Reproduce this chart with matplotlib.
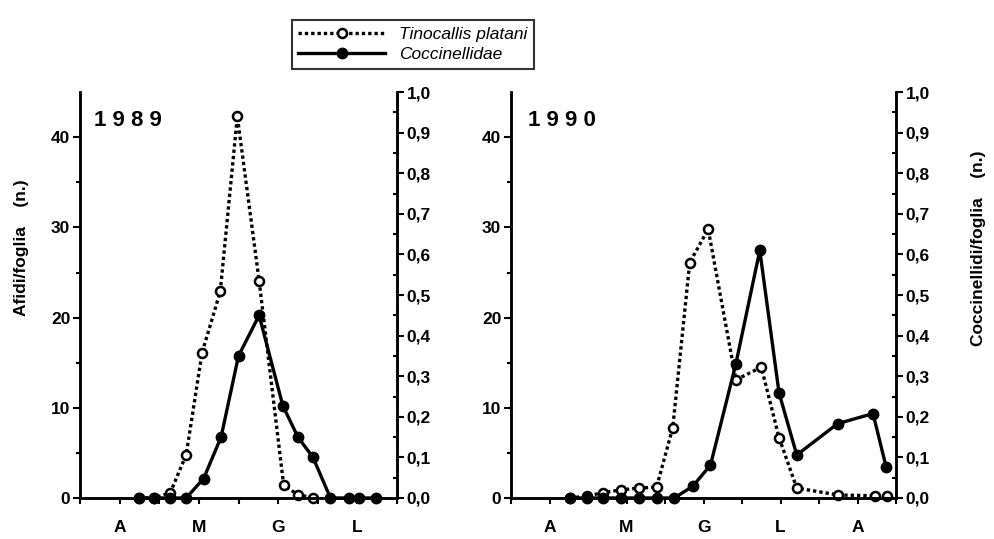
import numpy as np
import matplotlib
matplotlib.use("Agg")
import matplotlib.pyplot as plt
from matplotlib.lines import Line2D

plt.rcParams['font.family'] = ['Liberation Sans', 'DejaVu Sans']

# ---- data (x = months from 1 April) ----
months_89 = ['A', 'M', 'G', 'L']
months_90 = ['A', 'M', 'G', 'L', 'A']

# 1989
afidi_x_89 = [0.74, 0.94, 1.14, 1.34, 1.54, 1.77, 1.985, 2.26, 2.57, 2.75, 2.94]
afidi_y_89 = [0, 0, 0.6, 4.8, 16.1, 22.9, 42.3, 24.1, 1.4, 0.35, 0.05]
cocc_x_89 = [0.74, 0.94, 1.14, 1.34, 1.56, 1.78, 2.0, 2.26, 2.56, 2.75, 2.94,
             3.16, 3.39, 3.52, 3.74]
cocc_y_89 = [0, 0, 0, 0, 0.048, 0.15, 0.35, 0.45, 0.227, 0.15, 0.10,
             0, 0, 0, 0]

# 1990
afidi_x_90 = [0.76, 0.98, 1.20, 1.43, 1.66, 1.89, 2.10, 2.32, 2.56, 2.92,
              3.25, 3.48, 3.71, 4.25, 4.72, 4.88]
afidi_y_90 = [0, 0.2, 0.6, 0.9, 1.1, 1.2, 7.8, 26.1, 29.8, 13.1,
              14.5, 6.7, 1.1, 0.33, 0.25, 0.25]
cocc_x_90 = [0.76, 0.98, 1.20, 1.43, 1.66, 1.89, 2.12, 2.36, 2.59, 2.92,
             3.23, 3.48, 3.71, 4.24, 4.70, 4.87]
cocc_y_90 = [0, 0, 0, 0, 0, 0, 0, 0.029, 0.081, 0.331,
             0.61, 0.259, 0.106, 0.183, 0.208, 0.077]

left_ticks = [0, 10, 20, 30, 40]
right_ticks = np.round(np.arange(0, 1.01, 0.1), 1)
right_labels = [f"{v:.1f}".replace('.', ',') for v in right_ticks]

fig = plt.figure(figsize=(9.95, 5.39), dpi=100)

dotted = dict(color='black', linestyle=(0, (1, 0.9)), linewidth=2.4,
              marker='o', markersize=6.5, markerfacecolor='white',
              markeredgecolor='black', markeredgewidth=1.8)
solid = dict(color='black', linestyle='-', linewidth=2.4,
             marker='o', markersize=7.5, markerfacecolor='black',
             markeredgecolor='black')


def panel(rect, nmonths, months, year, ax_x, ax_y, c_x, c_y):
    ax = fig.add_axes(rect)
    ax2 = ax.twinx()
    ax.plot(ax_x, ax_y, **dotted, clip_on=False)
    ax2.plot(c_x, c_y, **solid, clip_on=False)

    ax.set_xlim(0, nmonths)
    ax.set_ylim(0, 45)
    ax2.set_ylim(0, 1.0)

    for a in (ax, ax2):
        a.spines['top'].set_visible(False)
        for s in ('left', 'right', 'bottom'):
            a.spines[s].set_linewidth(1.8)

    xt = np.arange(0, nmonths + 0.01, 0.5)
    ax.set_xticks(xt)
    labs = []
    for v in xt:
        if abs(v % 1 - 0.5) < 1e-6:
            labs.append(months[int(v)])
        else:
            labs.append('')
    ax.set_xticklabels(labs, fontsize=12.5, fontweight='bold')
    ax.tick_params(axis='x', direction='out', length=4, width=1.5, pad=12)

    ax.set_yticks(left_ticks)
    ax.set_yticklabels([str(v) for v in left_ticks], fontsize=12.5, fontweight='bold')
    ax.set_yticks([5, 15, 25, 35], minor=True)
    ax.tick_params(axis='y', which='major', direction='out', length=5, width=1.5, pad=2)
    ax.tick_params(axis='y', which='minor', direction='out', length=3, width=1.5)

    ax2.set_yticks(right_ticks)
    ax2.set_yticklabels(right_labels, fontsize=12.5, fontweight='bold')
    ax2.set_yticks(np.arange(0.05, 1.0, 0.1), minor=True)
    ax2.tick_params(axis='y', which='major', direction='out', length=5, width=1.5, pad=2)
    ax2.tick_params(axis='y', which='minor', direction='in', length=3, width=1.5)

    ax.text(0.045, 0.955, year, transform=ax.transAxes, fontsize=16,
            fontweight='bold', va='top', ha='left')
    return ax, ax2


panel([0.0804, 0.0761, 0.3186, 0.753], 4, months_89, '1 9 8 9',
      afidi_x_89, afidi_y_89, cocc_x_89, cocc_y_89)
panel([0.5136, 0.0761, 0.387, 0.753], 5, months_90, '1 9 9 0',
      afidi_x_90, afidi_y_90, cocc_x_90, cocc_y_90)

fig.text(0.022, 0.54, 'Afidi/foglia    (n.)', rotation=90, fontsize=12.5,
         fontweight='bold', ha='center', va='center')
fig.text(0.983, 0.54, 'Coccinellidi/foglia    (n.)', rotation=90, fontsize=12.5,
         fontweight='bold', ha='center', va='center')

handles = [Line2D([], [], **dotted), Line2D([], [], **solid)]
leg = fig.legend(handles, ['Tinocallis platani', 'Coccinellidae'],
                 loc='upper left', bbox_to_anchor=(0.293, 0.963),
                 prop={'style': 'italic', 'size': 12.5}, frameon=True,
                 fancybox=False, handlelength=5.0, borderpad=0.4,
                 labelspacing=0.3, handletextpad=0.8, borderaxespad=0)
leg.get_frame().set_edgecolor('black')
leg.get_frame().set_linewidth(1.5)

fig.savefig('out.png', dpi=100)
